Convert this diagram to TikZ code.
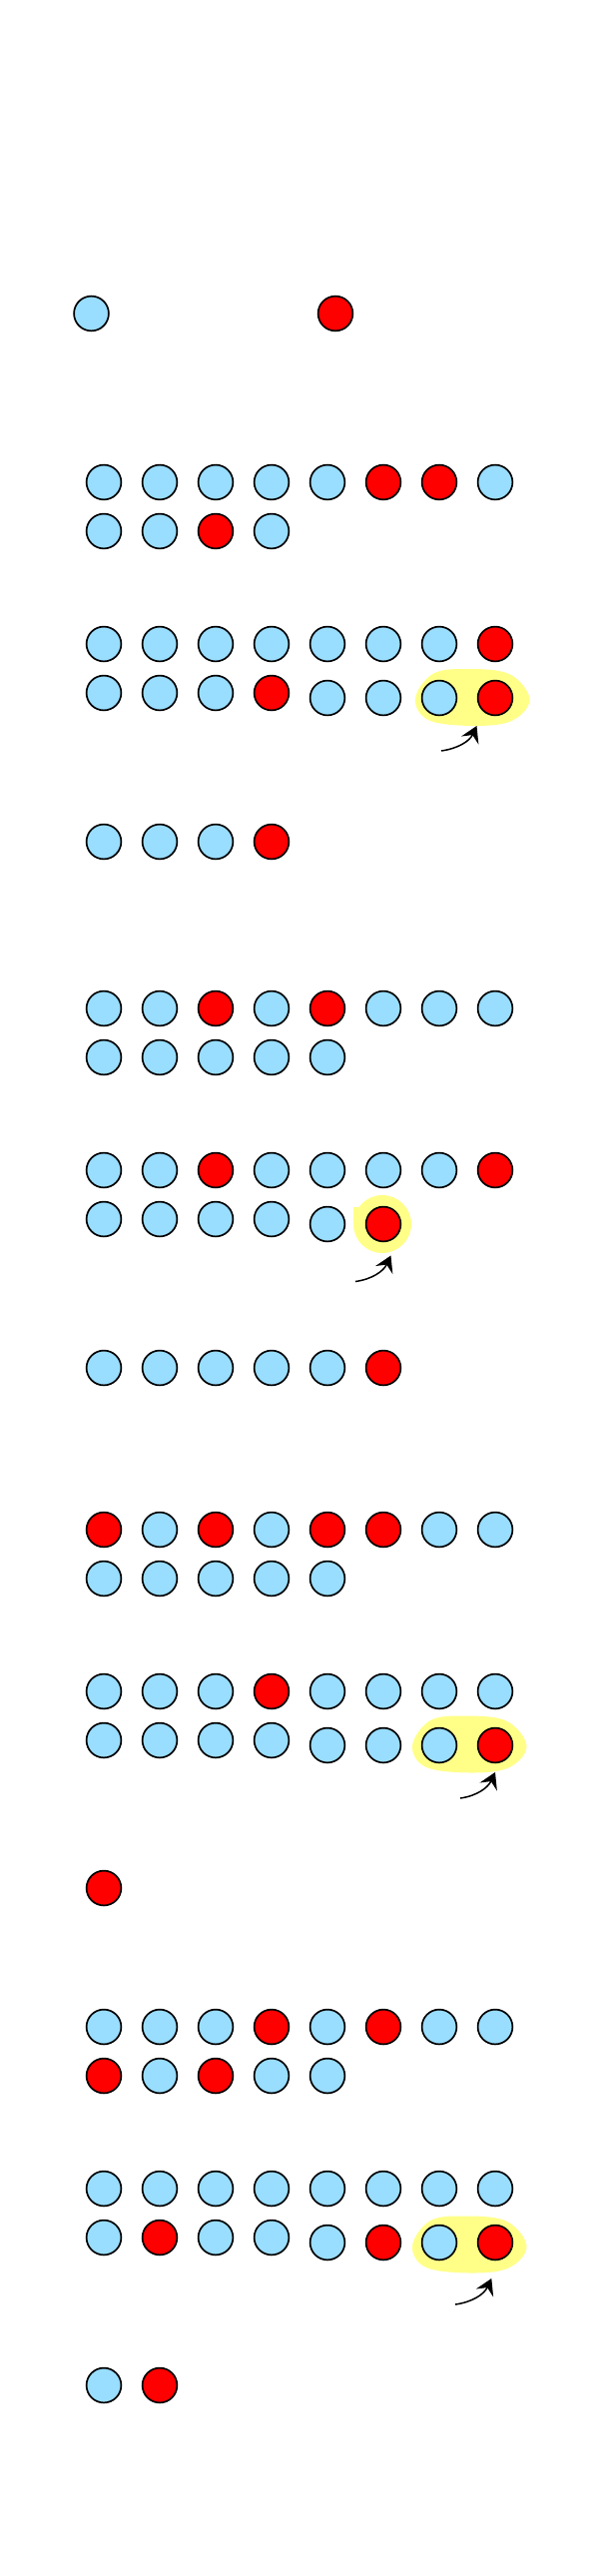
\documentclass[tikz,border=0pt]{standalone}
\usetikzlibrary{arrows.meta}
\definecolor{B}{HTML}{99DDFF}
\definecolor{R}{HTML}{FF0000}
\definecolor{HL}{HTML}{FFFF88}
\newcommand\myballrow[4]{%
  \foreach \c [count=\i from #3] in {#4}
    \node[ball,fill=\c] (#1-\i) at ({104+56*(\i-1)},#2) {};}
\newcommand\myblob[2]{%
  \fill[HL,shift={(#1,#2)}] plot[smooth cycle,tension=0.6] coordinates
    {(-57.5,1.5) (-40,-23.5) (-7,-28.5) (36.5,-23.5) (57,1.5) (40,23) (3,28.5) (-43.5,23)};}
\begin{document}
\begin{tikzpicture}[x=0.5pt,y=-0.5pt,
  ball/.style={circle,draw=black,line width=0.85pt,minimum size=17.4pt,inner sep=0pt,outer sep=0pt},
  hlcirc/.style={fill=HL,circle,minimum size=29pt,inner sep=0pt,outer sep=0pt},
  arr/.style={line width=0.75pt,-{Stealth[length=8pt,width=9.5pt,inset=3pt]}}]
\useasboundingbox (0,0) rectangle (600,2580);

% highlights (behind)
\myblob{473.5}{698.5}
\node[hlcirc] (hD) at (383,1226) {};
\fill[HL] (354,1209) rectangle (372,1228);
\myblob{470.5}{1747}
\myblob{470.5}{2248}

% top pair
\node[ball,fill=B] (t1) at (91.5,314) {};
\node[ball,fill=R] (t2) at (336,314) {};

% group A
\myballrow{a1}{483}{1}{B,B,B,B,B,R,R,B}
\myballrow{a2}{532}{1}{B,B,R,B}

% group B
\myballrow{b1}{645}{1}{B,B,B,B,B,B,B,R}
\myballrow{b2}{694}{1}{B,B,B,R}
\myballrow{b2}{699}{5}{B,B,B,R}

% single row 1
\myballrow{s1}{843}{1}{B,B,B,R}

% group C
\myballrow{c1}{1010}{1}{B,B,R,B,R,B,B,B}
\myballrow{c2}{1059}{1}{B,B,B,B,B}

% group D
\myballrow{d1}{1172}{1}{B,B,R,B,B,B,B,R}
\myballrow{d2}{1221}{1}{B,B,B,B}
\myballrow{d2}{1226}{5}{B,R}

% single row 2
\myballrow{s2}{1370}{1}{B,B,B,B,B,R}

% group E
\myballrow{e1}{1532}{1}{R,B,R,B,R,R,B,B}
\myballrow{e2}{1581}{1}{B,B,B,B,B}

% group F
\myballrow{f1}{1694}{1}{B,B,B,R,B,B,B,B}
\myballrow{f2}{1743}{1}{B,B,B,B}
\myballrow{f2}{1748}{5}{B,B,B,R}

% single row 3
\myballrow{s3}{1891}{1}{R}

% group G
\myballrow{g1}{2030}{1}{B,B,B,R,B,R,B,B}
\myballrow{g2}{2079}{1}{R,B,R,B,B}

% group H
\myballrow{h1}{2192}{1}{B,B,B,B,B,B,B,B}
\myballrow{h2}{2241}{1}{B,R,B,B}
\myballrow{h2}{2246}{5}{B,R,B,R}

% single row 4
\myballrow{s4}{2389}{1}{B,R}

% arrows
\coordinate (aB) at (442,752);
\coordinate (tB) at (477.5,727);
\coordinate (aD) at (356,1283.5);
\coordinate (tD) at (391.5,1257.5);
\coordinate (aF) at (461,1801);
\coordinate (tF) at (496,1775);
\coordinate (aH) at (456,2308);
\coordinate (tH) at (492.3,2282);
\draw[arr] (aB) to[out=8,in=-115] (tB);
\draw[arr] (aD) to[out=8,in=-115] (tD);
\draw[arr] (aF) to[out=8,in=-115] (tF);
\draw[arr] (aH) to[out=8,in=-115] (tH);
\end{tikzpicture}
\end{document}
